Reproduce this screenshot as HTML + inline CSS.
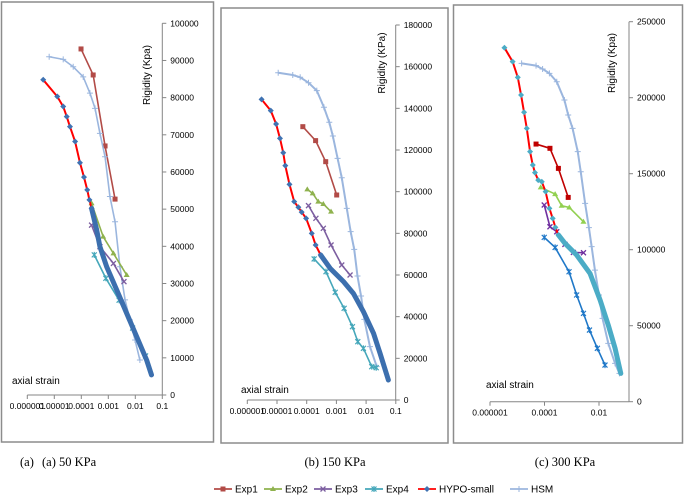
<!DOCTYPE html>
<html><head><meta charset="utf-8">
<style>
body{margin:0;background:#fff;width:685px;height:495px;overflow:hidden;font-family:"Liberation Sans",sans-serif}
svg{position:absolute;left:0;top:0}
</style></head>
<body>
<svg id="chart" width="685" height="495" viewBox="0 0 685 495"></svg>
<script>
// ---- Panel A (50 KPa) data: log10(strain), rigidity ----
const aHypoX=[-5.41,-4.89,-4.67,-4.54,-4.42,-4.23,-4.05,-3.90,-3.78,-3.70,-3.62,-3.43,-3.31,-3.06,-2.69,-2.32,-1.95,-1.58,-1.40];
const aHypoY=[84800,80300,77600,74900,72200,68200,62500,58600,55200,52500,50200,44400,39900,34500,28300,22000,15700,9400,5400];
const aExp1X=[-4.01,-3.56,-3.12,-2.75]; const aExp1Y=[93100,86100,67000,52700];
const aExp2X=[-3.62,-3.19,-2.81,-2.32]; const aExp2Y=[51600,42600,38100,32300];
const aExp3X=[-3.62,-3.31,-2.81,-2.42]; const aExp3Y=[45700,39900,35400,30500];
const aExp4X=[-3.52,-3.09,-2.60,-2.10,-1.62]; const aExp4Y=[37700,31400,25500,18000,10500];
const aHsmX=[-5.19,-4.67,-4.30,-3.93,-3.68,-3.49,-3.31,-3.12,-2.94,-2.75,-2.57,-2.38,-2.20,-2.01,-1.83];
const aHsmY=[91000,90300,88300,85600,81200,77100,70400,64100,53400,46600,34500,25600,20200,14800,9400];
// ---- Panel B (150 KPa) ----
const bHypoX=[-5.52,-5.21,-5.03,-4.90,-4.79,-4.72,-4.58,-4.42,-4.28,-4.17,-4.02,-3.83,-3.70,-3.53,-3.21,-2.76,-2.43,-2.09,-1.75,-1.53,-1.25];
const bHypoY=[144300,138900,132500,125600,118700,112500,103500,95200,92500,90200,87200,80000,74400,69600,63200,56800,51200,42400,32000,22400,9600];
const bExp1X=[-4.13,-3.70,-3.36,-2.99]; const bExp1Y=[131200,124500,114400,98400];
const bExp2X=[-3.98,-3.80,-3.61,-3.44,-3.18]; const bExp2Y=[101100,99200,95200,94100,90400];
const bExp3X=[-3.94,-3.69,-3.44,-3.18,-2.82,-2.54]; const bExp3Y=[93300,87200,82400,74400,64800,60000];
const bExp4X=[-3.75,-3.35,-3.04,-2.74,-2.46,-2.28,-2.09,-1.81,-1.66]; const bExp4Y=[67700,61600,51700,44000,35200,28000,24800,16000,15500];
const bHsmX=[-4.96,-4.47,-4.22,-3.94,-3.66,-3.42,-3.24,-3.12,-2.96,-2.82,-2.65,-2.52,-2.40,-2.29,-2.17,-2.06,-1.87,-1.64];
const bHsmY=[157100,156000,154900,152300,148500,140500,133300,126700,116000,106700,92000,80800,72300,59500,49900,38700,25600,16000];
// ---- Panel C (300 KPa) ----
const cHypoX=[-5.47,-5.17,-4.98,-4.86,-4.75,-4.65,-4.53,-4.43,-4.35,-4.23,-4.10,-3.96,-3.82,-3.70,-3.60,-3.49,-3.25,-2.82,-2.33,-1.96,-1.66,-1.41,-1.20];
const cHypoY=[232900,223700,213400,201800,190400,179800,164500,155700,150700,145800,144700,138200,127200,120600,114700,109700,104200,96500,84400,66900,50400,35100,18600];
const cExp1X=[-4.31,-3.80,-3.49,-3.13]; const cExp1Y=[169500,166700,153500,134400];
const cExp2X=[-4.14,-3.61,-3.37,-3.09,-2.57]; const cExp2Y=[141000,136600,128900,127800,118400];
const cExp3X=[-4.01,-3.80,-3.55,-3.25,-2.94,-2.57]; const cExp3Y=[129400,115100,111800,103500,98200,98000];
const cExp4X=[-4.01,-3.61,-3.10,-2.82,-2.57,-2.35,-2.06,-1.78]; const cExp4Y=[108100,101500,85500,70200,58100,47100,35100,24100];
const cHsmX=[-4.84,-4.31,-4.07,-3.82,-3.55,-3.27,-3.13,-2.97,-2.78,-2.67,-2.51,-2.37,-2.27,-2.15,-2.00,-1.87,-1.66,-1.41,-1.25];
const cHsmY=[222600,221100,218900,216000,210500,198500,188600,179800,164500,151300,130500,114500,102000,86600,70200,54800,38400,25200,18600];
const xTickLabels=["0.000001","0.00001","0.0001","0.001","0.01","0.1"];

const NS="http://www.w3.org/2000/svg";
const svg=document.getElementById('chart');
function mk(tag,attrs,parent){const e=document.createElementNS(NS,tag);for(const k in attrs)e.setAttribute(k,attrs[k]);(parent||svg).appendChild(e);return e;}

function marker(g,shape,x,y,col){
  let m;
  if(shape==='square'){m=mk('rect',{x:x-2.5,y:y-2.5,width:5,height:5,fill:col},g);}
  else if(shape==='tri'){m=mk('path',{d:`M${x} ${y-3}L${x+3} ${y+2}L${x-3} ${y+2}Z`,fill:col},g);}
  else if(shape==='x'){m=mk('path',{d:`M${x-2.5} ${y-2.5}L${x+2.5} ${y+2.5}M${x+2.5} ${y-2.5}L${x-2.5} ${y+2.5}`,stroke:col,'stroke-width':1.3},g);}
  else if(shape==='star'){m=mk('path',{d:`M${x-2.5} ${y-2.5}L${x+2.5} ${y+2.5}M${x+2.5} ${y-2.5}L${x-2.5} ${y+2.5}M${x} ${y-3}L${x} ${y+3}`,stroke:col,'stroke-width':1.2},g);}
  else if(shape==='diamond'){m=mk('path',{d:`M${x} ${y-3}L${x+3} ${y}L${x} ${y+3}L${x-3} ${y}Z`,fill:col},g);}
  else {m=mk('path',{d:`M${x-3} ${y}L${x+3} ${y}M${x} ${y-3}L${x} ${y+3}`,stroke:col,'stroke-width':1},g);}
  
  
}

function series(p,name,xs,ys,col,shape,w){
  const g=mk('g',{},p.g);
  
  
  const pts=xs.map((v,i)=>[p.sx(v),p.sy(ys[i])]);
  const l=mk('polyline',{points:pts.map(q=>q.join(',')).join(' '),fill:'none',stroke:col,'stroke-width':w||1.6,'stroke-linejoin':'round'},g);
  
  
  pts.forEach(q=>marker(g,shape,q[0],q[1],col));
  return g;
}
function hypo(p,xs,ys,split,lineCol,tailCol,mCol){
  const g=mk('g',{},p.g);
  
  
  const pts=xs.map((v,i)=>[p.sx(v),p.sy(ys[i])]);
  const tail=mk('polyline',{points:pts.slice(split-1).map(q=>q.join(',')).join(' '),fill:'none',stroke:tailCol,'stroke-width':5,'stroke-linejoin':'round','stroke-linecap':'round'},g);
  
  
  const head=mk('polyline',{points:pts.slice(0,split).map(q=>q.join(',')).join(' '),fill:'none',stroke:lineCol,'stroke-width':2},g);
  
  
  pts.slice(0,split).forEach(q=>marker(g,'diamond',q[0],q[1],mCol));
}

function panel(cfg){
  const g=mk('g',{});
  
  
  const fr=mk('rect',{x:cfg.fx,y:cfg.fy,width:cfg.fw,height:cfg.fh,fill:'#fff',stroke:'#8c8c8c','stroke-width':1.5},g);
  
  
  const p={g:g,sx:v=>cfg.x0+(v+6)*cfg.dec,sy:v=>cfg.yb-(v/cfg.ymax)*(cfg.yb-cfg.yt)};
  const ax=mk('g',{stroke:'#868686','stroke-width':1},g);
  
  
  mk('line',{x1:cfg.x0,y1:cfg.yb,x2:cfg.ax,y2:cfg.yb},ax);
  mk('line',{x1:cfg.ax,y1:cfg.yb,x2:cfg.ax,y2:cfg.yt},ax);
  for(let v=0;v<=cfg.ymax;v+=cfg.ystep){
    const y=p.sy(v);
    mk('line',{x1:cfg.ax,y1:y,x2:cfg.ax+4,y2:y},ax);
    const t=mk('text',{x:cfg.ax+8,y:y+3,'font-size':8.5,fill:'#000'},g);
    t.textContent=v;
    
    
  }
  for(let i=0;i<xTickLabels.length;i+=cfg.xskip){
    const x=cfg.x0+i*cfg.dec;
    mk('line',{x1:x,y1:cfg.yb,x2:x,y2:cfg.yb+4},ax);
    const t=mk('text',{x:x,y:cfg.yb+14,'font-size':8.5,'text-anchor':'middle',fill:'#000'},g);
    t.textContent=xTickLabels[i];
    
    
  }
  const yt=mk('text',{x:0,y:0,'font-size':10,'text-anchor':'middle',transform:`translate(${cfg.ytx},${cfg.yty}) rotate(-90)`},g);
  yt.textContent=cfg.ylab;
  
  
  const xt=mk('text',{x:cfg.xtx,y:cfg.xty,'font-size':10},g);
  xt.textContent='axial strain';
  
  
  return p;
}

const pa=panel({name:'panel-50kpa',fx:1.5,fy:2,fw:212,fh:440,x0:27.3,dec:27,ax:162.3,yb:395,yt:23.3,ymax:100000,ystep:10000,xskip:1,ytx:150,yty:75,ylab:'Rigidity  (Kpa)',xtx:12,xty:384});
series(pa,'exp1-series',aExp1X,aExp1Y,'#b24b47','square');
series(pa,'hsm-series',aHsmX,aHsmY,'#9bb6de','plus');
series(pa,'exp2-series',aExp2X,aExp2Y,'#8fb24e','tri');
series(pa,'exp3-series',aExp3X,aExp3Y,'#7c5ea0','x');
series(pa,'exp4-series',aExp4X,aExp4Y,'#45a7ba','star');
hypo(pa,aHypoX,aHypoY,11,'#ff0000','#3c6fae','#3f72b2');

const pb=panel({name:'panel-150kpa',fx:221,fy:8,fw:227,fh:435,x0:247.3,dec:29.7,ax:395.7,yb:400,yt:25,ymax:180000,ystep:20000,xskip:1,ytx:385,yty:63,ylab:'Rigidity (KPa)',xtx:241,xty:393});
series(pb,'hsm-series',bHsmX,bHsmY,'#9bb6de','plus',2);
series(pb,'exp1-series',bExp1X,bExp1Y,'#b24b47','square');
series(pb,'exp2-series',bExp2X,bExp2Y,'#8fb24e','tri');
series(pb,'exp3-series',bExp3X,bExp3Y,'#7c5ea0','x');
series(pb,'exp4-series',bExp4X,bExp4Y,'#45a7ba','star');
hypo(pb,bHypoX,bHypoY,14,'#ff0000','#3c6fae','#3f72b2');

const pc=panel({name:'panel-300kpa',fx:453.5,fy:5,fw:229,fh:438,x0:490,dec:27.25,ax:629,yb:401.7,yt:21.7,ymax:250000,ystep:50000,xskip:2,ytx:615,yty:63,ylab:'Rigidity (Kpa)',xtx:486,xty:388});
series(pc,'hsm-series',cHsmX,cHsmY,'#9bb6de','plus',2);
series(pc,'exp1-series',cExp1X,cExp1Y,'#c00000','square');
series(pc,'exp2-series',cExp2X,cExp2Y,'#92d050','tri');
series(pc,'exp3-series',cExp3X,cExp3Y,'#7030a0','x');
series(pc,'exp4-series',cExp4X,cExp4Y,'#1f78c8','star');
hypo(pc,cHypoX,cHypoY,16,'#ff0000','#4bacc6','#4bacc6');

// captions
[["(a)",20,"start"],["(a) 50 KPa",42,"start"],["(b) 150 KPa",335,"middle"],["(c) 300 KPa",565,"middle"]].forEach(c=>{
  const t=mk('text',{x:c[1],y:466,'font-size':12.5,'text-anchor':c[2],'font-family':'"Liberation Serif",serif'});
  t.textContent=c[0];
  
  
});
// legend
const lg=mk('g',{});


[["Exp1",214,'#b24b47','square'],["Exp2",264,'#8fb24e','tri'],["Exp3",314,'#7c5ea0','x'],["Exp4",365,'#45a7ba','star'],["HYPO-small",418,'#ff0000','diamond'],["HSM",510,'#9bb6de','plus']].forEach(e=>{
  const ge=mk('g',{},lg);
  
  
  mk('line',{x1:e[1],y1:489,x2:e[1]+18,y2:489,stroke:e[2],'stroke-width':1.8},ge);
  marker(ge,e[3],e[1]+9,489,e[3]==='diamond'?'#3f72b2':e[2]);
  const t=mk('text',{x:e[1]+21,y:492.5,'font-size':10},ge);
  t.textContent=e[0];
});
</script>
</body></html>
